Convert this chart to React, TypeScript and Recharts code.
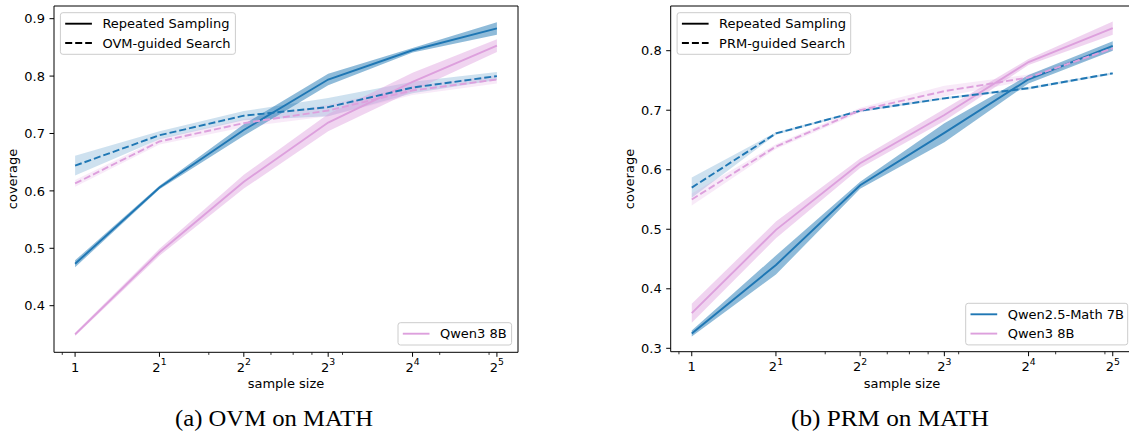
import React from 'react';
import { ComposedChart, Line, Area, XAxis, YAxis, ReferenceArea } from 'recharts';

// ---------- data ----------
const sampleSizes = [1, 2, 4, 8, 16, 32];
const minorTicks = [0.9, 3, 5, 6, 7, 9, 20, 30];

// (a) OVM on MATH
const ovmMathRS = [0.473, 0.606, 0.706, 0.794, 0.845, 0.883];
const ovmMathRSErr = [0.006, 0.003, 0.010, 0.010, 0.004, 0.011];
const ovmQwen3RS = [0.350, 0.493, 0.616, 0.719, 0.790, 0.853];
const ovmQwen3RSErr = [0.003, 0.006, 0.012, 0.015, 0.016, 0.011];
const ovmMathSearch = [0.644, 0.697, 0.731, 0.746, 0.780, 0.800];
const ovmMathSearchErr = [0.017, 0.007, 0.008, 0.016, 0.010, 0.007];
const ovmQwen3Search = [0.613, 0.686, 0.718, 0.740, 0.775, 0.794];
const ovmQwen3SearchErr = [0.006, 0.005, 0.007, 0.010, 0.008, 0.007];

// (b) PRM on MATH
const prmMathRS = [0.325, 0.440, 0.574, 0.662, 0.752, 0.808];
const prmMathRSErr = [0.005, 0.016, 0.006, 0.016, 0.007, 0.008];
const prmQwen3RS = [0.359, 0.499, 0.611, 0.692, 0.781, 0.838];
const prmQwen3RSErr = [0.016, 0.014, 0.008, 0.010, 0.005, 0.011];
const prmMathSearch = [0.570, 0.661, 0.699, 0.720, 0.737, 0.762];
const prmMathSearchErr = [0.017, 0.002, 0.002, 0.002, 0.002, 0.002];
const prmQwen3Search = [0.550, 0.639, 0.700, 0.732, 0.755, 0.804];
const prmQwen3SearchErr = [0.010, 0.004, 0.004, 0.009, 0.005, 0.004];

const ovmYTicks = [0.4, 0.5, 0.6, 0.7, 0.8, 0.9];
const prmYTicks = [0.3, 0.4, 0.5, 0.6, 0.7, 0.8];

const BLUE = '#1f77b4';
const PINK = '#dda0dd';
const FONT = "'DejaVu Sans', sans-serif";

type Series = { v: number[]; e: number[] };

function buildRows(a: Series, b: Series, c: Series, d: Series) {
  return sampleSizes.map((n, i) => ({
    n,
    aRS: a.v[i], aBand: [a.v[i] - a.e[i], a.v[i] + a.e[i]],
    bRS: b.v[i], bBand: [b.v[i] - b.e[i], b.v[i] + b.e[i]],
    cS: c.v[i], cBand: [c.v[i] - c.e[i], c.v[i] + c.e[i]],
    dS: d.v[i], dBand: [d.v[i] - d.e[i], d.v[i] + d.e[i]],
  }));
}

const ovmRows = buildRows(
  { v: ovmMathRS, e: ovmMathRSErr },
  { v: ovmQwen3RS, e: ovmQwen3RSErr },
  { v: ovmMathSearch, e: ovmMathSearchErr },
  { v: ovmQwen3Search, e: ovmQwen3SearchErr }
);
const prmRows = buildRows(
  { v: prmMathRS, e: prmMathRSErr },
  { v: prmQwen3RS, e: prmQwen3RSErr },
  { v: prmMathSearch, e: prmMathSearchErr },
  { v: prmQwen3Search, e: prmQwen3SearchErr }
);

const X_DOMAIN: [number, number] = [Math.pow(2, -0.25), Math.pow(2, 5.25)];

const XTick = (props: any) => {
  const { x, y, payload } = props;
  const v = payload.value;
  const major = sampleSizes.includes(v);
  const exp = Math.round(Math.log2(v));
  return (
    <g>
      <line x1={x} x2={x} y1={y} y2={y + (major ? 4.5 : 2.6)} stroke="#000" strokeWidth={major ? 1 : 0.8} />
      {major && (
        <text x={x} y={y + 19.4} textAnchor="middle" fontFamily={FONT} fontSize={13} fill="#000">
          {exp === 0 ? '1' : (
            <>
              <tspan>2</tspan>
              <tspan dy={-6.5} fontSize={9.3}>{exp}</tspan>
            </>
          )}
        </text>
      )}
    </g>
  );
};

function Panel({ rows, yDomain, yTicks, left, yAxisWidth, marginRight, xAxisHeight }: any) {
  return (
    <div style={{ position: 'absolute', left, top: 0 }}>
      <ComposedChart
        width={560}
        height={432}
        data={rows}
        margin={{ top: 6, right: marginRight, bottom: 0, left: 0 }}
      >
        <XAxis
          dataKey="n"
          type="number"
          scale="log"
          domain={X_DOMAIN}
          allowDataOverflow
          ticks={[...sampleSizes, ...minorTicks]}
          interval={0}
          tick={<XTick />}
          tickLine={false}
          tickSize={0}
          tickMargin={0}
          axisLine={false}
          height={xAxisHeight}
        />
        <YAxis
          type="number"
          domain={yDomain}
          allowDataOverflow
          ticks={yTicks}
          interval={0}
          width={yAxisWidth}
          tickFormatter={(v: number) => v.toFixed(1)}
          tick={{ fill: '#000', fontSize: 13, fontFamily: FONT }}
          tickLine={{ stroke: '#000', strokeWidth: 1 }}
          tickSize={4.5}
          tickMargin={4.5}
          axisLine={false}
        />
        <Area dataKey="cBand" type="linear" stroke="none" fill={BLUE} fillOpacity={0.22} isAnimationActive={false} dot={false} activeDot={false} />
        <Area dataKey="dBand" type="linear" stroke="none" fill={PINK} fillOpacity={0.22} isAnimationActive={false} dot={false} activeDot={false} />
        <Area dataKey="aBand" type="linear" stroke="none" fill={BLUE} fillOpacity={0.5} isAnimationActive={false} dot={false} activeDot={false} />
        <Area dataKey="bBand" type="linear" stroke="none" fill={PINK} fillOpacity={0.45} isAnimationActive={false} dot={false} activeDot={false} />
        <Line dataKey="aRS" type="linear" stroke={BLUE} strokeWidth={1.9} dot={false} activeDot={false} isAnimationActive={false} />
        <Line dataKey="bRS" type="linear" stroke={PINK} strokeWidth={1.9} dot={false} activeDot={false} isAnimationActive={false} />
        <Line dataKey="cS" type="linear" stroke={BLUE} strokeWidth={1.9} strokeDasharray="7 3" dot={false} activeDot={false} isAnimationActive={false} />
        <Line dataKey="dS" type="linear" stroke={PINK} strokeWidth={1.9} strokeDasharray="7 3" dot={false} activeDot={false} isAnimationActive={false} />
        <ReferenceArea
          x1={X_DOMAIN[0]}
          x2={X_DOMAIN[1]}
          y1={yDomain[0]}
          y2={yDomain[1]}
          fill="none"
          fillOpacity={0}
          stroke="#000"
          strokeWidth={1}
          ifOverflow="visible"
        />
      </ComposedChart>
    </div>
  );
}

type Row = { label: string; color: string; dash?: boolean };

function LegendBox({ x, y, w, rows }: { x: number; y: number; w: number; rows: Row[] }) {
  const h = 22.3 + 19.3 * (rows.length - 1);
  return (
    <g>
      <rect x={x} y={y} width={w} height={h} rx={2.5} fill="#fff" fillOpacity={0.8} stroke="#cccccc" strokeWidth={1} />
      {rows.map((r, i) => {
        const cy = y + 11 + 19.3 * i;
        return (
          <g key={r.label}>
            <line x1={x + 4.8} x2={x + 31.5} y1={cy} y2={cy} stroke={r.color} strokeWidth={1.9} strokeDasharray={r.dash ? '7 3' : undefined} />
            <text x={x + 42} y={cy} dominantBaseline="central" fontFamily={FONT} fontSize={13} fill="#000">
              {r.label}
            </text>
          </g>
        );
      })}
    </g>
  );
}

export default function App() {
  return (
    <div style={{ position: 'absolute', left: 0, top: 0, width: 1129, height: 432, overflow: 'hidden', background: '#fff' }}>
      <Panel rows={ovmRows} yDomain={[0.3188, 0.9221]} yTicks={ovmYTicks} left={0} yAxisWidth={54} marginRight={42} xAxisHeight={79.7} />
      <Panel rows={prmRows} yDomain={[0.2943, 0.8751]} yTicks={prmYTicks} left={600} yAxisWidth={70.7} marginRight={26.2} xAxisHeight={80.3} />
      <svg width={1129} height={432} style={{ position: 'absolute', left: 0, top: 0, pointerEvents: 'none' }}>
        <LegendBox x={60.4} y={12.7} w={175} rows={[
          { label: 'Repeated Sampling', color: '#000' },
          { label: 'OVM-guided Search', color: '#000', dash: true },
        ]} />
        <LegendBox x={398} y={322.7} w={113.6} rows={[
          { label: 'Qwen3 8B', color: PINK },
        ]} />
        <LegendBox x={677.1} y={12.7} w={173.6} rows={[
          { label: 'Repeated Sampling', color: '#000' },
          { label: 'PRM-guided Search', color: '#000', dash: true },
        ]} />
        <LegendBox x={965.7} y={303.3} w={162} rows={[
          { label: 'Qwen2.5-Math 7B', color: BLUE },
          { label: 'Qwen3 8B', color: PINK },
        ]} />
        <text transform="translate(12.5,179) rotate(-90)" textAnchor="middle" dominantBaseline="central" fontFamily={FONT} fontSize={13} fill="#000">coverage</text>
        <text transform="translate(629.6,179) rotate(-90)" textAnchor="middle" dominantBaseline="central" fontFamily={FONT} fontSize={13} fill="#000">coverage</text>
        <text x={286} y={387.7} textAnchor="middle" fontFamily={FONT} fontSize={13} fill="#000">sample size</text>
        <text x={902} y={387.7} textAnchor="middle" fontFamily={FONT} fontSize={13} fill="#000">sample size</text>
        <text x={274} y={426} textAnchor="middle" fontFamily="'Liberation Serif', serif" fontSize={24} textLength={198} lengthAdjust="spacingAndGlyphs" fill="#000">(a) OVM on MATH</text>
        <text x={890} y={426} textAnchor="middle" fontFamily="'Liberation Serif', serif" fontSize={24} textLength={198} lengthAdjust="spacingAndGlyphs" fill="#000">(b) PRM on MATH</text>
      </svg>
    </div>
  );
}
